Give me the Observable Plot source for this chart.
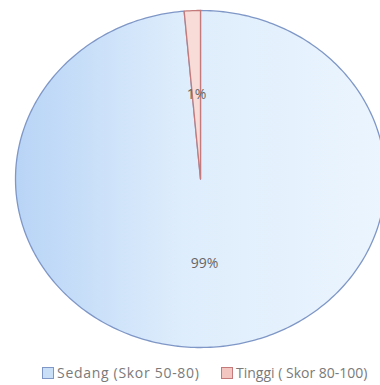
<!DOCTYPE html>
<html><head><meta charset="utf-8">
<script src="https://cdn.jsdelivr.net/npm/d3@7"></script>
<script src="https://cdn.jsdelivr.net/npm/@observablehq/plot@0.6"></script>
<style>
body{margin:0;background:#fff;font-family:"Open Sans",sans-serif;overflow:hidden}
#legend{position:relative;height:27px;font-size:14px;color:#7a7a7a}
.item{position:absolute;top:5px;display:flex;align-items:center;white-space:nowrap}
.sw{width:12px;height:12px;box-sizing:border-box;margin-right:3px}
</style>
</head><body><div id="chart"></div><div id="legend"></div><script>
const categories = ["Sedang (Skor 50-80)", "Tinggi ( Skor 80-100)"];
const values = [70, 1];
const percentLabels = ["99%", "1%"];
const fills = ["url(#sedangGrad)", "#f7dcd8"];
const strokes = ["#7f97c6", "#c47a7a"];
const swatchFills = ["#c9def7", "#f3c6c2"];

const arcs = d3.pie().sort(null).value(d => d)(values);
const slices = arcs.map((p, i) => {
  const pts = [{x: 0, y: 0}];
  const n = Math.max(2, Math.ceil((p.endAngle - p.startAngle) / (Math.PI / 180)));
  for (let k = 0; k <= n; k++) {
    const a = p.startAngle + (p.endAngle - p.startAngle) * k / n;
    pts.push({x: Math.sin(a), y: Math.cos(a)});
  }
  pts.push({x: 0, y: 0});
  return pts;
});
const labels = arcs.map((p, i) => {
  const m = (p.startAngle + p.endAngle) / 2;
  return {x: 0.5 * Math.sin(m), y: 0.5 * Math.cos(m), text: percentLabels[i]};
});

const defs = () => {
  const ns = "http://www.w3.org/2000/svg";
  const g = document.createElementNS(ns, "defs");
  g.innerHTML = `<linearGradient id="sedangGrad" x1="0" x2="1" y1="0" y2="0">
    <stop offset="0" stop-color="#b8d4f6"/>
    <stop offset="0.45" stop-color="#deedfc"/>
    <stop offset="1" stop-color="#ebf5fe"/></linearGradient>`;
  return g;
};

const chart = Plot.plot({
  width: 380, height: 358, margin: 0,
  x: {domain: [-1, 1], range: [15, 385], axis: null},
  y: {domain: [-1, 1], range: [347, 10], axis: null},
  marks: [
    defs,
    ...slices.map((s, i) => Plot.line(s, {x: "x", y: "y", fill: fills[i], stroke: strokes[i], strokeWidth: 1.3, strokeLinejoin: "round"})),
    Plot.text(labels, {x: "x", y: "y", text: "text", fill: "#666666", fontSize: 14, fontFamily: "Open Sans"})
  ]
});
document.getElementById("chart").append(chart);

const lg = document.getElementById("legend");
const lefts = [42, 221];
const spacing = ["0.7px", "0px"];
categories.forEach((c, i) => {
  const it = document.createElement("div");
  it.className = "item";
  it.style.left = lefts[i] + "px";
  it.style.letterSpacing = spacing[i];
  it.innerHTML = `<span class="sw" style="background:${swatchFills[i]};border:1px solid ${strokes[i]}"></span><span>${c}</span>`;
  lg.append(it);
});
</script></body></html>
